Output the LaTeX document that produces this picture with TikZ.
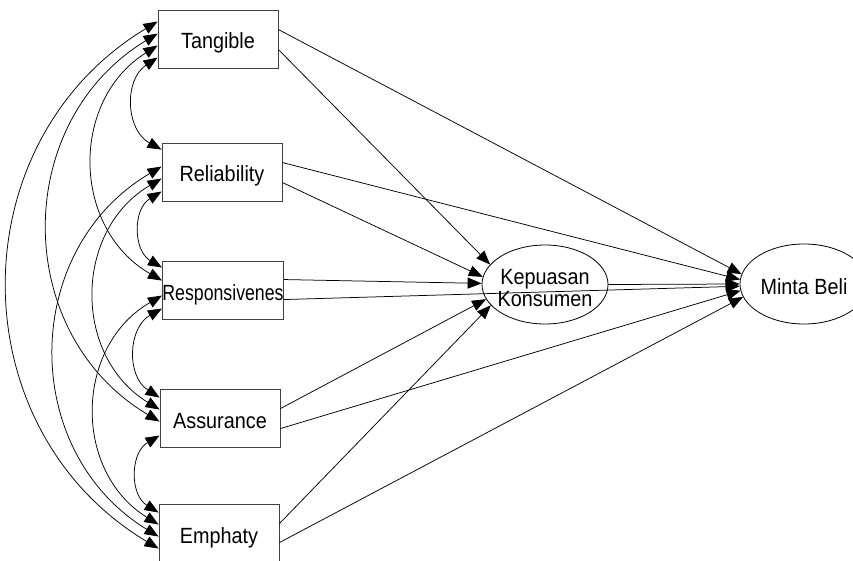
\documentclass[tikz,border=0pt]{standalone}
\usepackage{fontspec}
\setmainfont{Liberation Sans}[FakeStretch=0.9]
\usetikzlibrary{arrows.meta,shapes.geometric,calc}
\begin{document}
\begin{tikzpicture}[x=1pt,y=-1pt,
  lbl/.style={font=\fontsize{22}{22}\selectfont},
  box/.style={lbl,draw=black!75,line width=0.9pt,fill=white,inner sep=0pt,
    minimum width=120pt,minimum height=58pt,text height=20pt,text depth=0pt},
  lat/.style={ellipse,draw=black,line width=0.8pt,fill=white,inner sep=0pt},
  tip/.tip={Triangle[length=14pt,width=11pt]},
  reg/.style={line width=0.75pt,-tip},
  cov/.style={line width=0.75pt,tip-tip,bend right=59,looseness=1.13}]
\useasboundingbox (0,0) rectangle (853,561);
\clip (0,0) rectangle (853,561);

% latent variables
\node[lat,minimum width=126pt,minimum height=79pt] (K) at (545,284.5) {};
\node[lbl,inner sep=0pt,align=center] (Kt) at (545,288) {Kepuasan\\Konsumen};
\node[lat,minimum width=128pt,minimum height=80pt] (M) at (804,284) {};
\node[lbl,inner sep=0pt] (Mt) at (804,286.5) {Minta Beli};

% observed variables
\node[box] (T) at (218,39) {Tangible};
\node[box] (R) at (222,172) {Reliability};
\node[box] (S) at (223,290) {\scalebox{0.895}[1]{Responsivenes}};
\node[box] (A) at (220,418) {Assurance};
\node[box] (E) at (219,533) {Emphaty};

% regression paths
\draw[reg] ($(T.north east)+(0,20)$) -- (M.171);
\draw[reg] ($(T.north east)+(0,40)$) -- (K.160);
\draw[reg] ($(R.north east)+(0,20)$) -- (M.176);
\draw[reg] ($(R.north east)+(0,40)$) -- (K.173);
\draw[reg] ($(S.north east)+(0,19)$) -- (K.179);
\draw[reg] ($(S.north east)+(0,39)$) -- (M.182);
\draw[reg] ($(A.north east)+(0,20)$) -- (K.194);
\draw[reg] ($(A.north east)+(0,40)$) -- (M.186);
\draw[reg] ($(E.north east)+(0,20)$) -- (K.201);
\draw[reg] ($(E.north east)+(0,39)$) -- (M.192);
\draw[reg] (K.east) -- (M.180);

% covariances
\draw[cov] ($(T.north west)+(0,12)$) to ($(E.north west)+(0,45)$);
\draw[cov] ($(T.north west)+(0,24)$) to ($(A.north west)+(0,33)$);
\draw[cov] ($(T.north west)+(0,36)$) to ($(S.north west)+(0,20)$);
\draw[cov] ($(T.north west)+(0,48)$) to ($(R.north west)+(0,7)$);
\draw[cov] ($(R.north west)+(0,24)$) to ($(E.north west)+(0,33)$);
\draw[cov] ($(R.north west)+(0,36)$) to ($(A.north west)+(0,21)$);
\draw[cov] ($(R.north west)+(0,49)$) to ($(S.north west)+(0,7)$);
\draw[cov] ($(S.north west)+(0,35)$) to ($(E.north west)+(0,21)$);
\draw[cov] ($(S.north west)+(0,48)$) to ($(A.north west)+(0,9)$);
\draw[cov] ($(A.north west)+(0,47)$) to ($(E.north west)+(0,9)$);
\end{tikzpicture}
\end{document}
